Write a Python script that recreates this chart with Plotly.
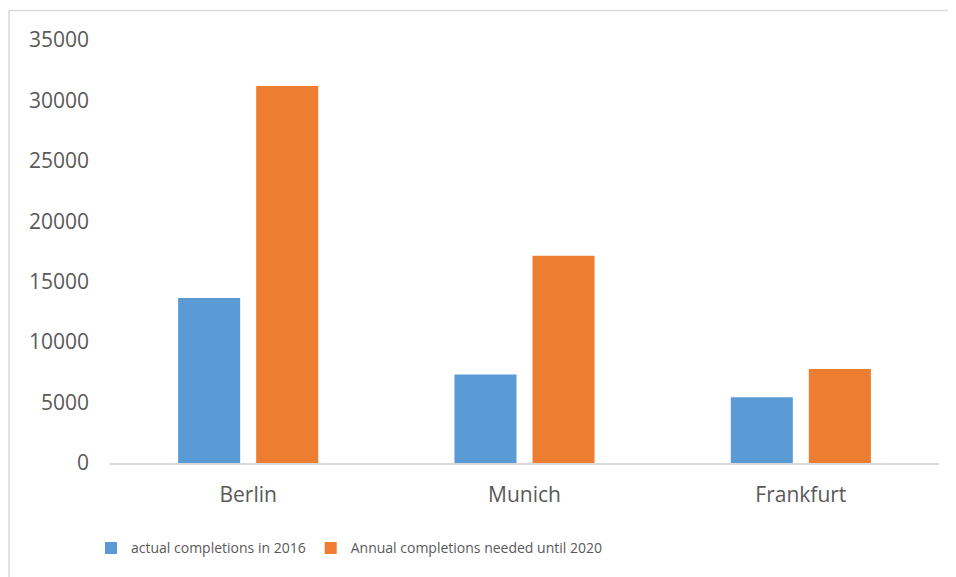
import plotly.graph_objects as go

cities = ["Berlin", "Munich", "Frankfurt"]
actual_2016 = [13650, 7330, 5430]
needed_until_2020 = [31200, 17150, 7780]
series_names = ["actual completions in 2016", "Annual completions needed until 2020"]
y_ticks = [0, 5000, 10000, 15000, 20000, 25000, 30000, 35000]
y_tick_labels = ["0", "5000", "10000", "15000", "20000", "25000", "30000", "35000"]

W, H = 956, 577
OFF = 8  # page body margin
L, R, T, B = 110, 939, 40, 463.5  # plot area in page pixels

fig = go.Figure()
fig.add_trace(go.Bar(x=cities, y=actual_2016, name=series_names[0],
                     marker=dict(color="#5B9BD5", line=dict(width=0))))
fig.add_trace(go.Bar(x=cities, y=needed_until_2020, name=series_names[1],
                     marker=dict(color="#ED7D31", line=dict(width=0))))

def px_x(p):
    return (p - L) / (R - L)

def px_y(p):
    return (B - p) / (B - T)

# chart border (light gray)
fig.add_shape(type="line", xref="paper", yref="paper",
              x0=px_x(9), x1=px_x(9), y0=px_y(10.5), y1=px_y(620),
              line=dict(color="#d9d9d9", width=1.5))
fig.add_shape(type="line", xref="paper", yref="paper",
              x0=px_x(9), x1=px_x(990), y0=px_y(10.5), y1=px_y(10.5),
              line=dict(color="#d9d9d9", width=1.5))

fig.update_layout(
    width=W, height=H,
    margin=dict(l=L - OFF, r=W - (R - OFF), t=T - OFF, b=H - (B - OFF)),
    paper_bgcolor="white", plot_bgcolor="white",
    barmode="group", bargap=0.435, bargroupgap=0.205,
    font=dict(family="Open Sans", color="#595959"),
    showlegend=True,
    legend=dict(orientation="h", x=px_x(91), y=px_y(533), xanchor="left", yanchor="top",
                font=dict(size=14, color="#595959"),
                bgcolor="rgba(0,0,0,0)"),
)
fig.update_xaxes(showline=True, linecolor="#d9d9d9", linewidth=1.5, ticks="",
                 tickfont=dict(size=21, color="#595959"), ticklabelstandoff=12,
                 showgrid=False, zeroline=False)
fig.update_yaxes(range=[0, 35000], tickvals=y_ticks, ticktext=y_tick_labels,
                 showgrid=False, zeroline=False,
                 showline=False, ticks="", tickfont=dict(size=21, color="#595959"),
                 ticklabelstandoff=20)

fig.write_html("out.html")
